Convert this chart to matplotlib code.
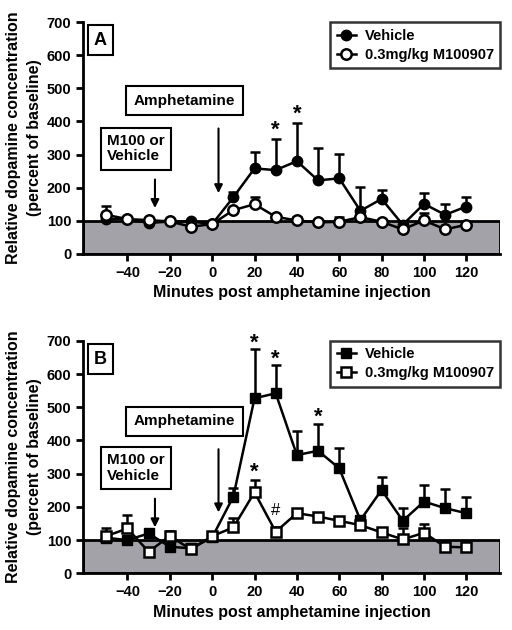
import numpy as np
import matplotlib
matplotlib.use("Agg")
import matplotlib.pyplot as plt
from matplotlib.patches import Rectangle
from matplotlib.lines import Line2D

plt.rcParams['font.family'] = ['Liberation Sans', 'DejaVu Sans']
plt.rcParams['font.weight'] = 'bold'

minutes = [-50, -40, -30, -20, -10, 0, 10, 20, 30, 40, 50, 60, 70, 80, 90, 100, 110, 120]

# panel A (circles)
veh_a = [105, 106, 93, 98, 98, 90, 171, 258, 253, 280, 222, 228, 130, 166, 88, 151, 118, 143]
veh_a_err = [40, 5, 5, 5, 5, 5, 15, 51, 95, 116, 99, 75, 73, 27, 5, 34, 33, 29]
m100_a = [118, 105, 102, 98, 82, 90, 132, 150, 112, 101, 95, 97, 111, 97, 74, 101, 74, 88]
m100_a_err = [5, 5, 5, 5, 5, 5, 5, 21, 5, 10, 5, 13, 5, 5, 5, 23, 5, 5]

# panel B (squares)
veh_b = [107, 100, 120, 80, 75, 108, 231, 527, 542, 356, 369, 316, 160, 251, 158, 216, 196, 181]
veh_b_err = [28, 5, 5, 5, 5, 5, 25, 147, 85, 72, 82, 62, 5, 38, 40, 50, 59, 50]
m100_b = [112, 135, 65, 112, 72, 112, 138, 244, 125, 181, 171, 158, 145, 123, 102, 122, 80, 78]
m100_b_err = [5, 40, 5, 16, 5, 5, 30, 37, 15, 5, 5, 5, 5, 5, 33, 26, 5, 5]

stars_a = [(30, 372, "*"), (40, 421, "*")]
stars_b = [(20, 693, "*"), (30, 645, "*"), (50, 470, "*"), (20, 303, "*"), (30, 190, "#")]

fig = plt.figure(figsize=(5.12, 6.30), dpi=100)
ax_a = fig.add_axes([0.162, 0.597, 0.815, 0.368])
ax_b = fig.add_axes([0.162, 0.090, 0.815, 0.369])


def draw_panel(ax, veh, veh_err, m100, m100_err, marker, stars, letter, amph_y, m100_y):
    ax.add_patch(Rectangle((-61, 0), 197, 100, facecolor="#a2a2a8",
                           edgecolor="black", linewidth=2, zorder=1))
    ax.errorbar(minutes, veh, yerr=[np.zeros(len(veh)), veh_err], color="black",
                marker=marker, markersize=7.5, markerfacecolor="black", linewidth=1.8,
                capsize=3.5, capthick=1.8, elinewidth=1.8, zorder=3)
    ax.errorbar(minutes, m100, yerr=[np.zeros(len(m100)), m100_err], color="black",
                marker=marker, markersize=7.5, markerfacecolor="white", markeredgewidth=1.8,
                linewidth=1.8, capsize=3.5, capthick=1.8, elinewidth=1.8, zorder=4)
    for x, y, s in stars:
        ax.text(x, y, s, ha="center", va="center", fontsize=16 if s == "*" else 12,
                fontweight="bold" if s == "*" else "normal")
    ax.set_xlim(-61, 136)
    ax.set_ylim(0, 700)
    ax.set_xticks([-40, -20, 0, 20, 40, 60, 80, 100, 120])
    ax.set_yticks(range(0, 701, 100))
    ax.spines["top"].set_visible(False)
    ax.spines["right"].set_visible(False)
    ax.spines["left"].set_linewidth(2)
    ax.spines["bottom"].set_linewidth(2)
    ax.tick_params(width=2, length=5, labelsize=10.5)
    for lab in ax.get_xticklabels() + ax.get_yticklabels():
        lab.set_fontweight("bold")
    ax.set_xlabel("Minutes post amphetamine injection", fontsize=11.5, fontweight="bold")
    ax.set_ylabel("Relative dopamine concentration\n(percent of baseline)",
                  fontsize=11.5, fontweight="bold", linespacing=1.5)
    ax.yaxis.set_label_coords(-0.097, 0.5)
    box = dict(boxstyle="square,pad=0.3", facecolor="white", edgecolor="black", linewidth=1.5)
    ax.text(-52.7, 645, letter, fontsize=13, fontweight="bold", ha="center", va="center",
            bbox=dict(box, boxstyle="square,pad=0.35"))
    ax.text(-13, amph_y, "Amphetamine", fontsize=11, fontweight="bold",
            ha="center", va="center", bbox=dict(box, boxstyle="square,pad=0.5"))
    ax.text(-49.5, m100_y, "M100 or\nVehicle", fontsize=11, fontweight="bold",
            ha="left", va="center", linespacing=1.15,
            bbox=dict(box, boxstyle="square,pad=0.4"))
    ax.annotate("", xy=(3, 175), xytext=(3, amph_y - 76),
                arrowprops=dict(arrowstyle="-|>", color="black", lw=1.5, mutation_scale=12))
    ax.annotate("", xy=(-27, 130), xytext=(-27, m100_y - 85),
                arrowprops=dict(arrowstyle="-|>", color="black", lw=1.5, mutation_scale=12))
    handles = [Line2D([], [], color="black", marker=marker, markersize=7.5, lw=1.8,
                      markerfacecolor="black"),
               Line2D([], [], color="black", marker=marker, markersize=7.5, lw=1.8,
                      markerfacecolor="white", markeredgewidth=1.8)]
    leg = ax.legend(handles, ["Vehicle", "0.3mg/kg M100907"], loc="upper right",
                    fontsize=10.5, frameon=True, fancybox=False, edgecolor="black",
                    handlelength=1.3, handletextpad=0.6, borderpad=0.45,
                    labelspacing=0.35, borderaxespad=0, bbox_to_anchor=(1.0, 1.0))
    leg.get_frame().set_linewidth(1.8)
    for t in leg.get_texts():
        t.set_fontweight("bold")


draw_panel(ax_a, veh_a, veh_a_err, m100_a, m100_a_err, "o", stars_a, "A", 463, 318)
draw_panel(ax_b, veh_b, veh_b_err, m100_b, m100_b_err, "s", stars_b, "B", 458, 318)

fig.savefig("out.png", dpi=100)
